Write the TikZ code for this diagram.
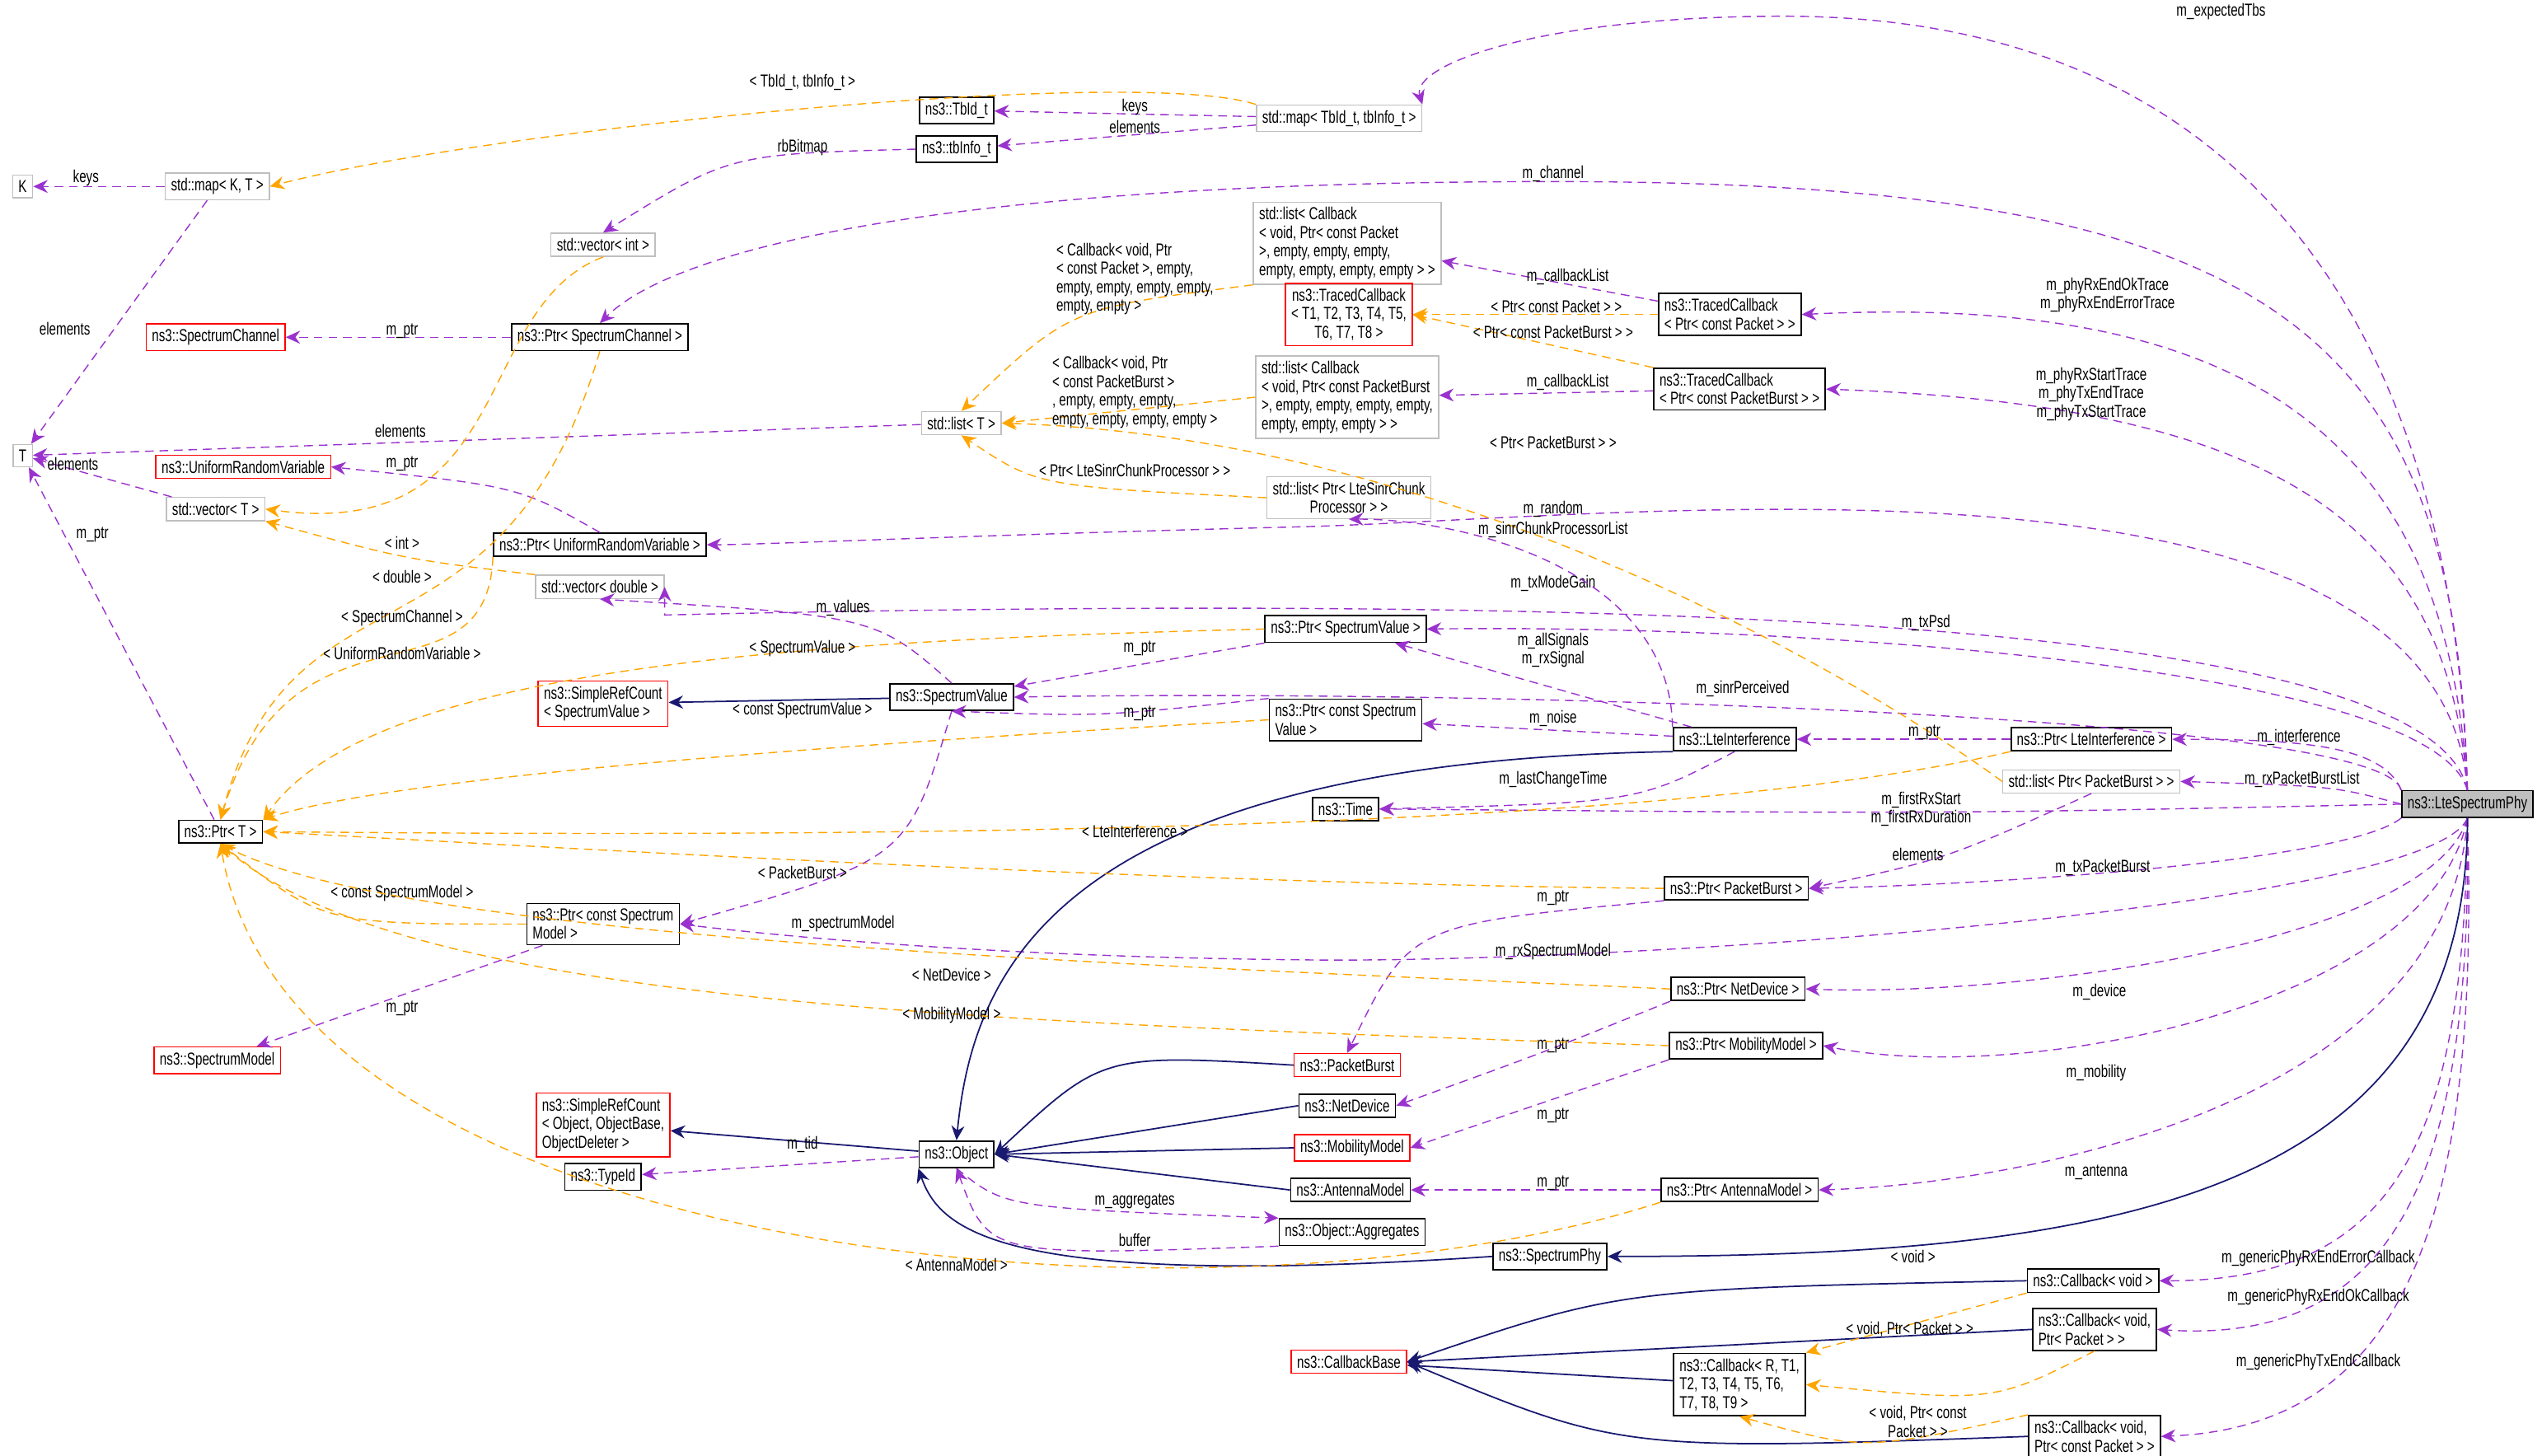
\documentclass[tikz,border=0pt]{standalone}
\usepackage{fontspec}
\setmainfont[FakeStretch=0.72]{Liberation Sans}
\usetikzlibrary{arrows.meta}
\definecolor{usecol}{HTML}{9A32CD}
\definecolor{tplcol}{HTML}{FFA500}
\definecolor{inhcol}{HTML}{191970}
\begin{document}
\begin{tikzpicture}[x=0.01967cm,y=-0.01967cm,
	box/.style={draw,font=\fontsize{6}{6.4}\selectfont,inner xsep=2pt,inner ysep=1.8pt,minimum height=13*0.01967cm,align=left},
	cls/.style={box,draw=black,line width=0.5pt},
	ext/.style={box,draw=black!25},
	undoc/.style={box,draw=red},
	cur/.style={box,draw=black,fill=black!25},
	lbl/.style={font=\fontsize{6}{6.4}\selectfont,inner sep=0pt,align=center},
	tip/.style={-{Stealth[length=5pt,width=4.5pt]}},
	uses/.style={tip,draw=usecol,dashed,dash pattern=on 3pt off 2pt},
	tmpl/.style={tip,draw=tplcol,dashed,dash pattern=on 3pt off 2pt},
	inh/.style={tip,draw=inhcol,line width=0.5pt}]
	\useasboundingbox (0,0) rectangle (1568,898);
	
	% classes
	\node[ext] (K) at (14,115) {K};
	\node[ext] (mapKT) at (134,115) {std::map< K, T >};
	\node[ext] (T) at (14,281) {T};
	\node[ext] (vecT) at (133,314) {std::vector< T >};
	\node[undoc] (spchan) at (133,208) {ns3::SpectrumChannel};
	\node[undoc] (urv) at (150,288) {ns3::UniformRandomVariable};
	\node[ext] (vecint) at (372,151) {std::vector< int >};
	\node[cls] (ptrSC) at (370,208) {ns3::Ptr< SpectrumChannel >};
	\node[cls] (ptrURV) at (370,336) {ns3::Ptr< UniformRandomVariable >};
	\node[ext] (vecdbl) at (370,362) {std::vector< double >};
	\node[cls] (tbid) at (590,68) {ns3::TbId\_t};
	\node[cls] (tbinfo) at (590,92) {ns3::tbInfo\_t};
	\node[ext] (mapTb) at (826,73) {std::map< TbId\_t, tbInfo\_t >};
	\node[ext] (listCbP) at (831,150) {std::list< Callback\\< void, Ptr< const Packet\\ >, empty, empty, empty,\\ empty, empty, empty, empty > >};
	\node[undoc,align=center] (traced) at (832,194) {ns3::TracedCallback\\< T1, T2, T3, T4, T5,\\T6, T7, T8 >};
	\node[cls] (tcP) at (1067,194) {ns3::TracedCallback\\< Ptr< const Packet > >};
	\node[ext] (listCbPB) at (831,245) {std::list< Callback\\< void, Ptr< const PacketBurst\\ >, empty, empty, empty, empty,\\ empty, empty, empty > >};
	\node[cls] (tcPB) at (1073,240) {ns3::TracedCallback\\< Ptr< const PacketBurst > >};
	\node[ext] (listT) at (593,261) {std::list< T >};
	\node[ext,align=center] (listSinr) at (832,307) {std::list< Ptr< LteSinrChunk\\Processor > >};
	\node[cls] (ptrSV) at (830,388) {ns3::Ptr< SpectrumValue >};
	\node[undoc] (srcSV) at (372,434) {ns3::SimpleRefCount\\< SpectrumValue >};
	\node[cls] (sv) at (587,430) {ns3::SpectrumValue};
	\node[cls] (ptrCSV) at (830,444) {ns3::Ptr< const Spectrum\\Value >};
	\node[cls] (lteInt) at (1070,456) {ns3::LteInterference};
	\node[cls] (ptrLteInt) at (1290,456) {ns3::Ptr< LteInterference >};
	\node[ext] (listPB) at (1290,482) {std::list< Ptr< PacketBurst > >};
	\node[cur] (lte) at (1522,496) {ns3::LteSpectrumPhy};
	\node[cls] (time) at (830,499) {ns3::Time};
	\node[cls] (ptrT) at (136,513) {ns3::Ptr< T >};
	\node[cls] (ptrPB) at (1071,548) {ns3::Ptr< PacketBurst >};
	\node[cls] (ptrCSM) at (372,570) {ns3::Ptr< const Spectrum\\Model >};
	\node[cls] (ptrND) at (1072,610) {ns3::Ptr< NetDevice >};
	\node[undoc] (spm) at (134,654) {ns3::SpectrumModel};
	\node[cls] (ptrMM) at (1077,645) {ns3::Ptr< MobilityModel >};
	\node[undoc] (pb) at (831,657) {ns3::PacketBurst};
	\node[cls] (nd) at (831,682) {ns3::NetDevice};
	\node[undoc] (src3) at (372,694) {ns3::SimpleRefCount\\< Object, ObjectBase,\\ObjectDeleter >};
	\node[undoc] (mm) at (834,708) {ns3::MobilityModel};
	\node[cls] (typeid) at (372,726) {ns3::TypeId};
	\node[cls] (obj) at (590,712) {ns3::Object};
	\node[cls] (am) at (833,734) {ns3::AntennaModel};
	\node[cls] (ptrAM) at (1073,734) {ns3::Ptr< AntennaModel >};
	\node[cls] (agg) at (834,760) {ns3::Object::Aggregates};
	\node[cls] (sphy) at (956,775) {ns3::SpectrumPhy};
	\node[cls] (cbv) at (1291,790) {ns3::Callback< void >};
	\node[cls] (cbvP) at (1292,820) {ns3::Callback< void,\\ Ptr< Packet > >};
	\node[undoc] (cbb) at (832,840) {ns3::CallbackBase};
	\node[cls] (cbR) at (1073,854) {ns3::Callback< R, T1,\\ T2, T3, T4, T5, T6,\\ T7, T8, T9 >};
	\node[cls] (cbvCP) at (1292,886) {ns3::Callback< void,\\ Ptr< const Packet > >};
	
	% members of LteSpectrumPhy
	\draw[uses] (lte.north) .. controls (1515,250) and (1420,10) .. (1100,10) .. controls (950,10) and (870,40) .. (mapTb.north east);
	\node[lbl] (lExp) at (1370,7) {m\_expectedTbs};
	\draw[uses] (lte.north) .. controls (1515,200) and (1400,112) .. (958,112) .. controls (600,112) and (420,150) .. (ptrSC.north);
	\node[lbl] (lChan) at (958,107) {m\_channel};
	\draw[uses] (lte.north) .. controls (1510,280) and (1400,180) .. (tcP.east);
	\node[lbl] (lRxEnd) at (1300,182) {m\_phyRxEndOkTrace\\m\_phyRxEndErrorTrace};
	\draw[uses] (lte.north) .. controls (1510,320) and (1400,250) .. (tcPB.east);
	\node[lbl] (lStart) at (1290,243) {m\_phyRxStartTrace\\m\_phyTxEndTrace\\m\_phyTxStartTrace};
	\draw[uses] (lte.north) .. controls (1505,260) and (1000,320) .. (800,325) .. controls (600,330) and (470,336) .. (ptrURV.east);
	\node[lbl] (lRand) at (958,314) {m\_random};
	\draw[uses] (lte.north) .. controls (1500,380) and (1000,366) .. (ptrSV.north -| vecdbl.east) -- (vecdbl.east);
	\node[lbl] (lGain) at (958,360) {m\_txModeGain};
	\draw[uses] (lte.north) .. controls (1500,410) and (1100,385) .. (ptrSV.east);
	\node[lbl] (lPsd) at (1188,384) {m\_txPsd};
	\draw[uses] (lte.north west) .. controls (1470,440) and (900,425) .. (sv.east);
	\node[lbl] (lSinr) at (1075,425) {m\_sinrPerceived};
	\draw[uses] (lte.north west) .. controls (1470,460) and (1420,456) .. (ptrLteInt.east);
	\node[lbl] (lInt) at (1418,455) {m\_interference};
	\draw[uses] (lte.west) .. controls (1440,485) .. (listPB.east);
	\node[lbl] (lRxPB) at (1420,481) {m\_rxPacketBurstList};
	\draw[uses] (lte.west) .. controls (1200,502) .. (time.east);
	\node[lbl] (lFirst) at (1185,499) {m\_firstRxStart\\m\_firstRxDuration};
	\draw[uses] (lte.south west) .. controls (1450,530) and (1250,545) .. (ptrPB.east);
	\node[lbl] (lTxPB) at (1297,535) {m\_txPacketBurst};
	\draw[uses] (lte.south) .. controls (1500,560) and (1000,595) .. (800,592) .. controls (600,590) and (470,576) .. (ptrCSM.east);
	\node[lbl] (lRxSM) at (958,587) {m\_rxSpectrumModel};
	\draw[uses] (lte.south) .. controls (1500,580) and (1250,615) .. (ptrND.east);
	\node[lbl] (lDev) at (1295,612) {m\_device};
	\draw[uses] (lte.south) .. controls (1500,620) and (1250,670) .. (ptrMM.east);
	\node[lbl] (lMob) at (1293,662) {m\_mobility};
	\draw[uses] (lte.south) .. controls (1510,680) and (1250,730) .. (ptrAM.east);
	\node[lbl] (lAnt) at (1293,723) {m\_antenna};
	\draw[uses] (lte.south) .. controls (1520,700) and (1480,790) .. (cbv.east);
	\node[lbl] (lErrCb) at (1430,776) {m\_genericPhyRxEndErrorCallback};
	\draw[uses] (lte.south) .. controls (1525,720) and (1480,830) .. (cbvP.east);
	\node[lbl] (lOkCb) at (1430,800) {m\_genericPhyRxEndOkCallback};
	\draw[uses] (lte.south) .. controls (1530,760) and (1480,880) .. (cbvCP.east);
	\node[lbl] (lTxCb) at (1430,840) {m\_genericPhyTxEndCallback};
	\draw[inh] (lte.south) .. controls (1522,740) and (1300,775) .. (sphy.east);
	
	% template arguments and other members
	\draw[uses] (mapKT) -- (K);
	\node[lbl] (lKeys) at (53,110) {keys};
	\draw[uses] (mapKT) -- (T);
	\node[lbl] (lElA) at (40,203) {elements};
	\draw[uses] (vecT) -- (T);
	\node[lbl] (lElB) at (45,286) {elements};
	\draw[uses] (listT) -- (T);
	\node[lbl] (lElC) at (247,266) {elements};
	\draw[uses] (ptrT) -- (T);
	\node[lbl] (lPtrT) at (57,330) {m\_ptr};
	\draw[tmpl] (mapTb.north west) .. controls (700,40) and (300,80) .. (mapKT.east);
	\node[lbl] (lTb) at (495,51) {< TbId\_t, tbInfo\_t >};
	\draw[uses] (mapTb) -- (tbid);
	\node[lbl] (lKeysB) at (700,66) {keys};
	\draw[uses] (mapTb) -- (tbinfo);
	\node[lbl] (lElD) at (700,78) {elements};
	\draw[uses] (tbinfo.west) .. controls (450,95) .. (vecint.north);
	\node[lbl] (lBit) at (495,91) {rbBitmap};
	\draw[uses] (ptrSC) -- (spchan);
	\node[lbl] (lPtrSC) at (248,204) {m\_ptr};
	\draw[uses] (ptrURV.north) .. controls (320,300) .. (urv.east);
	\node[lbl] (lPtrURV) at (248,286) {m\_ptr};
	\draw[tmpl] (vecint.south) .. controls (290,190) and (320,335) .. (vecT.east);
	\node[lbl] (lInt2) at (248,335) {< int >};
	\draw[tmpl] (vecdbl.north west) .. controls (250,345) .. (vecT.south east);
	\node[lbl] (lDbl) at (248,356) {< double >};
	\draw[tmpl] (ptrSC.south) .. controls (310,420) and (180,340) .. (ptrT.north);
	\node[lbl] (lSC) at (248,381) {< SpectrumChannel >};
	\draw[tmpl] (ptrURV.south west) .. controls (300,440) and (180,360) .. (ptrT.north);
	\node[lbl] (lURV) at (248,403) {< UniformRandomVariable >};
	\draw[uses] (tcP) -- (listCbP);
	\node[lbl] (lCbA) at (967,171) {m\_callbackList};
	\draw[tmpl] (tcP) -- (traced);
	\node[lbl] (lCP) at (960,189) {< Ptr< const Packet > >};
	\draw[tmpl] (tcPB.north west) -- (traced.east);
	\node[lbl] (lCPB) at (958,205) {< Ptr< const PacketBurst > >};
	\draw[uses] (tcPB) -- (listCbPB);
	\node[lbl] (lCbB) at (967,236) {m\_callbackList};
	\draw[tmpl] (listCbP.south west) .. controls (660,190) .. (listT.north);
	\node[lbl,align=left] (lLA) at (700,172) {< Callback< void, Ptr\\< const Packet >, empty,\\ empty, empty, empty, empty,\\ empty, empty >};
	\draw[tmpl] (listCbPB.west) -- (listT.east);
	\node[lbl,align=left] (lLB) at (700,242) {< Callback< void, Ptr\\< const PacketBurst >\\, empty, empty, empty,\\ empty, empty, empty, empty >};
	\draw[tmpl] (listSinr.west) .. controls (640,300) .. (listT.south);
	\node[lbl] (lLC) at (700,290) {< Ptr< LteSinrChunkProcessor > >};
	\draw[tmpl] (listPB.west) .. controls (1150,420) and (900,270) .. (listT.east);
	\node[lbl] (lLD) at (958,273) {< Ptr< PacketBurst > >};
	\draw[uses] (lteInt.north west) .. controls (1030,350) and (900,320) .. (listSinr.south);
	\node[lbl] (lChunk) at (958,327) {m\_sinrChunkProcessorList};
	\draw[uses] (sv.north) .. controls (540,380) .. (vecdbl.south);
	\node[lbl] (lVal) at (520,375) {m\_values};
	\draw[uses] (ptrSV) -- (sv);
	\node[lbl] (lPtrSV) at (703,400) {m\_ptr};
	\draw[tmpl] (ptrSV.west) .. controls (500,395) and (230,410) .. (ptrT.north east);
	\node[lbl] (lSV) at (495,400) {< SpectrumValue >};
	\draw[inh] (sv) -- (srcSV);
	\draw[uses] (ptrCSV.north west) .. controls (680,442) .. (sv.south);
	\node[lbl] (lPtrCSV) at (703,440) {m\_ptr};
	\draw[tmpl] (ptrCSV.west) .. controls (500,460) and (240,480) .. (ptrT.north east);
	\node[lbl] (lCSV) at (495,438) {< const SpectrumValue >};
	\draw[uses] (lteInt) -- (ptrSV);
	\node[lbl] (lSig) at (958,401) {m\_allSignals\\m\_rxSignal};
	\draw[uses] (lteInt) -- (ptrCSV);
	\node[lbl] (lNoise) at (958,443) {m\_noise};
	\draw[uses] (lteInt.south) .. controls (1010,495) .. (time.east);
	\node[lbl] (lLast) at (958,481) {m\_lastChangeTime};
	\draw[inh] (lteInt.south west) .. controls (650,470) and (600,600) .. (obj.north);
	\draw[uses] (ptrLteInt) -- (lteInt);
	\node[lbl] (lPtrLI) at (1187,452) {m\_ptr};
	\draw[tmpl] (ptrLteInt.south west) .. controls (1000,520) and (400,515) .. (ptrT.east);
	\node[lbl] (lLI) at (700,513) {< LteInterference >};
	\draw[uses] (listPB.south) .. controls (1200,530) .. (ptrPB.east);
	\node[lbl] (lElE) at (1183,527) {elements};
	\draw[tmpl] (ptrPB.west) .. controls (700,545) and (300,520) .. (ptrT.east);
	\node[lbl] (lPB) at (495,538) {< PacketBurst >};
	\draw[uses] (ptrPB.south west) .. controls (870,570) .. (pb.north);
	\node[lbl] (lPtrPB) at (958,554) {m\_ptr};
	\draw[uses] (sv.south) .. controls (560,530) .. (ptrCSM.east);
	\node[lbl] (lSM) at (520,570) {m\_spectrumModel};
	\draw[uses] (ptrCSM) -- (spm);
	\node[lbl] (lPtrSM) at (248,622) {m\_ptr};
	\draw[tmpl] (ptrCSM.west) .. controls (200,570) .. (ptrT.south);
	\node[lbl] (lCSM) at (248,551) {< const SpectrumModel >};
	\draw[uses] (ptrND.south west) .. controls (950,650) .. (nd.east);
	\node[lbl] (lPtrND) at (958,645) {m\_ptr};
	\draw[tmpl] (ptrND.west) .. controls (700,595) and (250,580) .. (ptrT.south);
	\node[lbl] (lND) at (587,601) {< NetDevice >};
	\draw[uses] (ptrMM.south west) -- (mm.east);
	\node[lbl] (lPtrMM) at (958,688) {m\_ptr};
	\draw[tmpl] (ptrMM.west) .. controls (600,630) and (250,620) .. (ptrT.south);
	\node[lbl] (lMM) at (587,626) {< MobilityModel >};
	\draw[inh] (pb.west) .. controls (680,650) .. (obj.east);
	\draw[inh] (nd.west) -- (obj.east);
	\draw[inh] (mm.west) -- (obj.east);
	\draw[inh] (am.west) -- (obj.east);
	\draw[inh] (obj) -- (src3);
	\draw[uses] (obj) -- (typeid);
	\node[lbl] (lTid) at (495,706) {m\_tid};
	\draw[uses] (obj.south) .. controls (620,745) .. (agg.north west);
	\node[lbl] (lAgg) at (700,741) {m\_aggregates};
	\draw[uses] (agg.south west) .. controls (610,775) .. (obj.south);
	\node[lbl] (lBuf) at (700,765) {buffer};
	\draw[inh] (sphy.west) .. controls (620,795) and (580,760) .. (obj.south west);
	\draw[uses] (ptrAM) -- (am);
	\node[lbl] (lPtrAM) at (958,730) {m\_ptr};
	\draw[tmpl] (ptrAM.south west) .. controls (750,830) and (180,780) .. (ptrT.south);
	\node[lbl] (lAM) at (590,780) {< AntennaModel >};
	\draw[inh] (cbv.west) .. controls (1000,795) .. (cbb.east);
	\draw[inh] (cbvP.west) -- (cbb.east);
	\draw[inh] (cbR) -- (cbb);
	\draw[inh] (cbvCP.west) .. controls (1000,895) .. (cbb.east);
	\draw[tmpl] (cbv.south west) -- (cbR.north east);
	\node[lbl] (lVoid) at (1180,775) {< void >};
	\draw[tmpl] (cbvP.south) .. controls (1230,865) .. (cbR.east);
	\node[lbl] (lVP) at (1178,820) {< void, Ptr< Packet > >};
	\draw[tmpl] (cbvCP.north west) .. controls (1150,895) .. (cbR.south);
	\node[lbl] (lVCP) at (1183,877) {< void, Ptr< const\\Packet > >};
\end{tikzpicture}
\end{document}
